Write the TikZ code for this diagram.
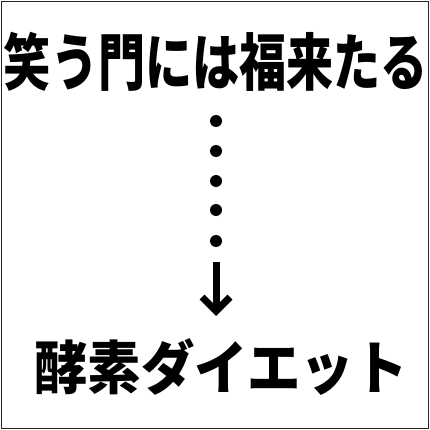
\documentclass[tikz,border=0pt]{standalone}
\usepackage{fontspec}
\newfontfamily\cjk{Noto Sans CJK JP}
\usetikzlibrary{arrows.meta}
\begin{document}
\begin{tikzpicture}[x=1pt,y=-1pt,
  frame/.style={draw=black!85,line width=1pt},
  bigtext/.style={inner sep=0pt,font=\cjk\bfseries\fontsize{62}{62}\selectfont},
  dotmark/.style={circle,fill=black,inner sep=0pt,minimum size=12pt},
  arrowline/.style={line width=7pt,-{Straight Barb[length=14pt,width=28pt,line width=7pt]}}]
\useasboundingbox (0,0) rectangle (430,430);
\draw[frame] (1.5,1.5) rectangle (428.5,428.5);
\node[bigtext] (top) at (216,62) {\scalebox{0.76}[1]{笑う門には福来たる}};
\foreach \i/\yy in {1/121,2/151,3/181,4/210,5/241}
  \node[dotmark] (d\i) at (216,\yy) {};
\coordinate (as) at (216,262);
\coordinate (ae) at (216,316);
\draw[arrowline] (as) -- (ae);
\node[bigtext] (bot) at (221,367) {\fontsize{58}{58}\selectfont\scalebox{0.92}[1]{酵素ダイエット}};
\end{tikzpicture}
\end{document}
